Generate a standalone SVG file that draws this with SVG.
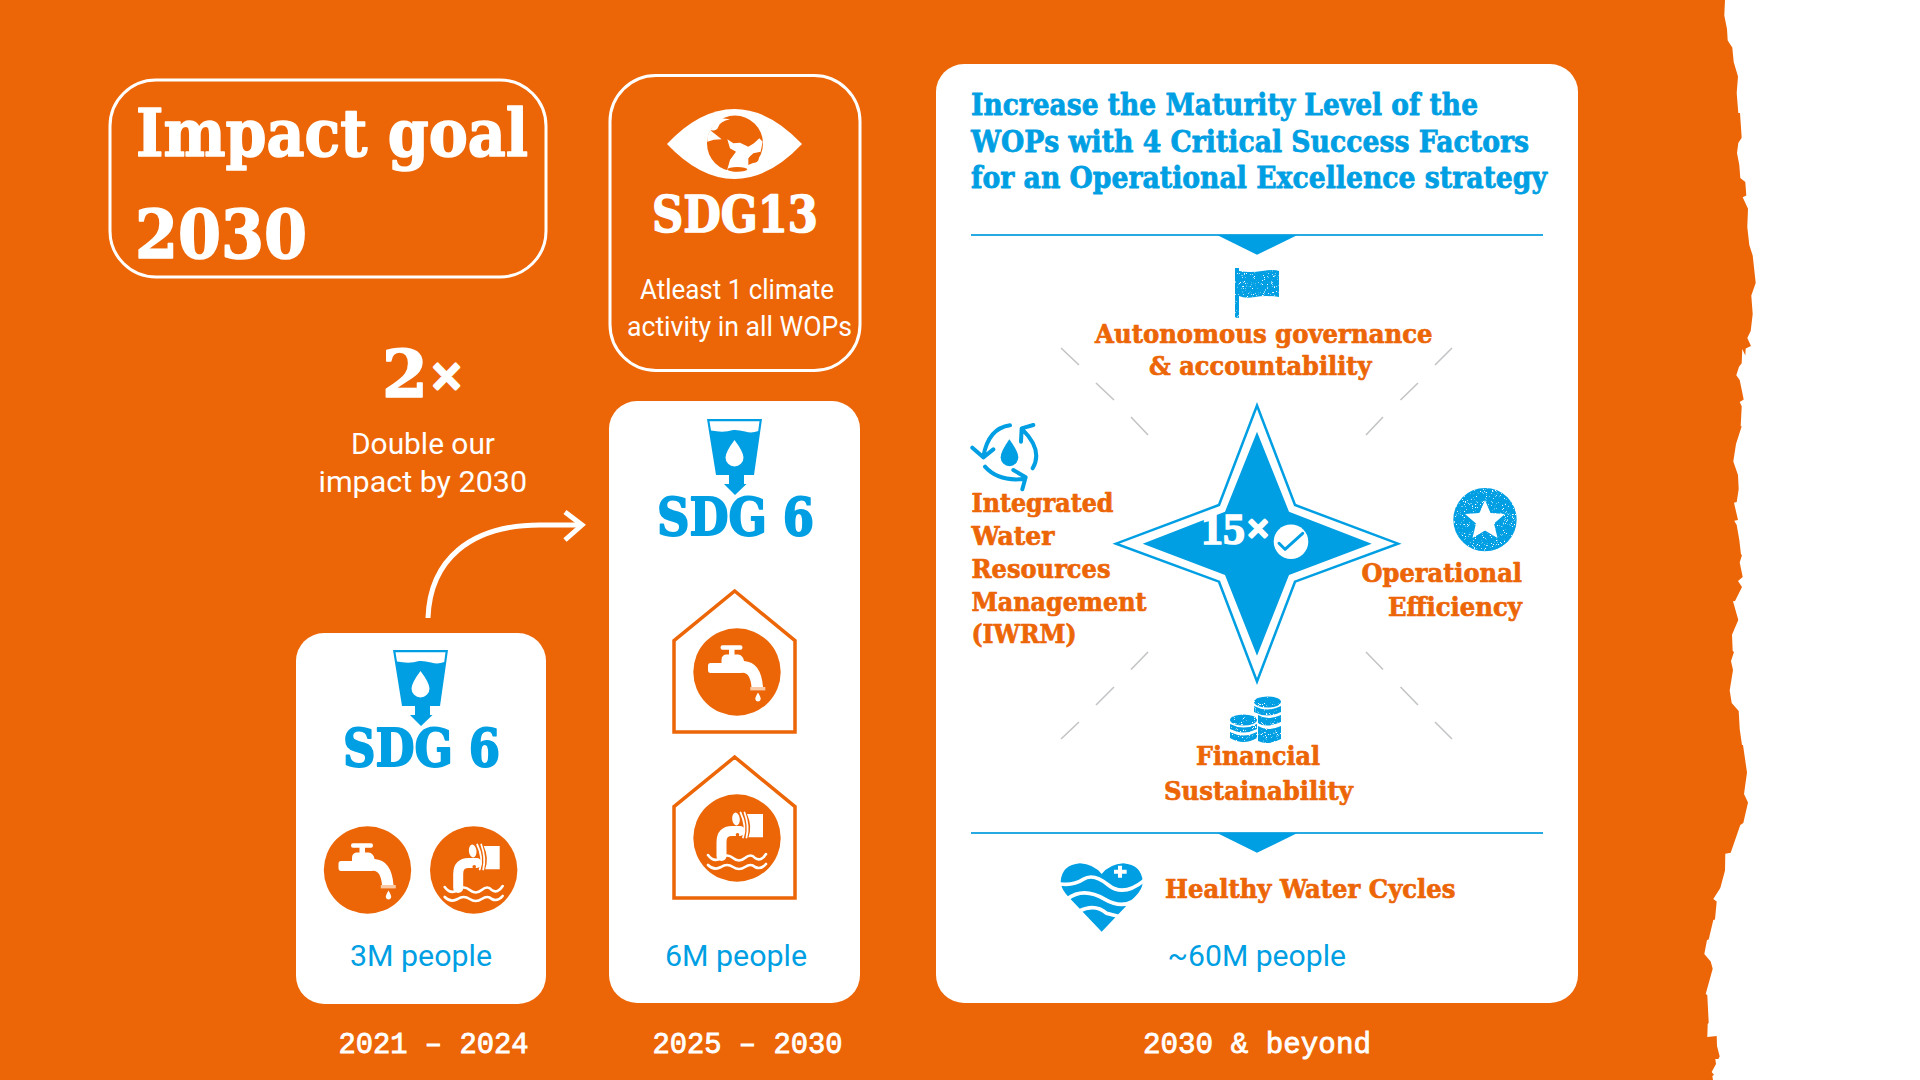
<svg xmlns="http://www.w3.org/2000/svg" width="1920" height="1080" viewBox="0 0 1920 1080">
<style>
text{white-space:pre}
.sf{font-family:"DejaVu Serif","Liberation Serif",serif;font-weight:700;stroke-linejoin:round}
.ss{font-family:Roboto,"Liberation Sans",sans-serif;font-weight:400}
.mn{font-family:"Liberation Mono",monospace;font-weight:400;font-size:29px;fill:#fff;stroke:#fff;stroke-width:.8}
.w{fill:#fff}.b{fill:#009FE3}.o{fill:#EC6608}
.big{stroke:#fff;stroke-width:1.6}
.bigb{stroke:#009FE3;stroke-width:1.8}
.or{font-size:26px;fill:#EC6608;stroke:#EC6608;stroke-width:.7}
.ti{font-size:30px;fill:#009FE3;stroke:#009FE3;stroke-width:.8}
.pe{font-size:30px;fill:#009FE3}
.card{fill:#fff}
.ol{fill:none;stroke:#fff;stroke-width:3}
.house{fill:none;stroke:#EC6608;stroke-width:3.5}
.tick{stroke:#c2c4c6;stroke-width:1.6;fill:none}
.rule{stroke:#27a9e1;stroke-width:2.2;fill:none}
.arc{fill:none;stroke:#009FE3;stroke-width:12;stroke-linecap:round;stroke-linejoin:round}
.wl{fill:none;stroke:#fff;stroke-linecap:round}
</style>
<defs>
<filter id="grain" x="-5%" y="-5%" width="110%" height="110%">
<feTurbulence type="fractalNoise" baseFrequency="1.1" numOctaves="2" seed="4"/>
<feColorMatrix values="0 0 0 0 0 0 0 0 0 0 0 0 0 0 0 0 0 0 9 -2.300"/>
<feComposite in="SourceGraphic" operator="in"/>
</filter>
<g id="tap">
<circle r="43.7" class="o"/>
<path class="w" d="M-14.5-26.7H3.5Q5.5-26.7 5.5-24.5T3.5-22.3H-2.500V-17.5H1Q6-17 7-11Q24-10 26 15H14.5Q13-1 4 1H-26.5Q-29 1-29-2V-6.5Q-29-9-26.5-9H-15.5V-12Q-15.5-17-11-17.5H-8V-22.3H-14.5Q-16.5-22.3-16.5-24.5T-14.5-26.7Z"/>
<rect x="13.3" y="15" width="15" height="3.4" fill="#f9c9a6"/>
<path class="w" d="M21 20.5Q24.3 26 23.6 27.5A2.7 2.7 0 0 1 18.4 27.5Q17.7 26 21 20.5Z"/>
</g>
<g id="pipe">
<circle r="43.7" class="o"/>
<path class="w" d="M10-24H26V-.8H11.5Q15.5-12 10-24Z"/>
<ellipse cx="-1" cy="-19" rx="3.8" ry="6.5" class="w" transform="rotate(-6 -1 -19)"/>
<path class="wl" stroke-width="1.8" d="M3.5-25.5Q10-12 6-.5M7.5-25.5Q12.5-12 9.5-.5"/>
<path class="wl" stroke-linecap="butt" stroke-width="10" d="M-15.5 18V4Q-15.5-7-5-7H3"/>
<circle cx="0.5" cy="-3.2" r="1.8" class="o"/>
<path class="wl" stroke-width="2.6" d="M-29 17Q-23 25-16 20Q-10 15-4 20T8 20T18 20Q24 24 29 16M-29 27Q-23 33-16 29Q-10 25-4 29T8 29T18 29Q24 32 29 26"/>
</g>
<g id="glass">
<path class="b" d="M0 0H55L47 56H37V65H39.5L28 76L17 65H22V56H9Z"/>
<path class="w" d="M2.5 2.2H52.5L51.2 12Q45 14.5 38 12.5T26 11Q17 14 4 11.5Z"/>
<path class="w" d="M27.500 21Q36.500 33 36.500 38.500A9 9 0 0 1 18.500 38.500Q18.500 33 27.500 21Z"/>
</g>
</defs>

<g id="background">
<rect width="1920" height="1080" fill="#fff"/>
<polygon class="o" points="0,0 1725,0 1724.3,15.5 1727,29 1727.7,40.6 1732.3,47.5 1733.7,62 1738,76.4 1736.7,93 1738.3,113 1740,113 1741.7,137.7 1738.3,143 1737,153 1739.3,165 1740.3,178 1745.3,182 1746.3,195.6 1742.7,197.3 1748,208.7 1747.3,227 1749.3,245 1752.7,255.5 1755.7,283 1751.3,295.5 1752.7,314 1750.7,331 1747.3,338 1751,346 1745.7,348.5 1745.3,355.4 1742.3,349 1741.7,363.3 1739,366.7 1736.3,375.3 1739.7,380 1743.7,399.5 1739.7,402 1741.7,406.3 1740.7,426.3 1741.7,426.3 1736,444 1733.3,461.4 1738,475 1738.7,489 1736.7,502 1734,502.8 1738,520 1734.3,520.7 1736.7,525 1739.3,540 1741,554.5 1742,555 1739.7,562.4 1742.7,577 1738,581 1742,587 1735,601 1733,601.3 1738.3,620 1732,634.7 1732.7,651 1734,652 1731,661 1733,670 1729.7,690.5 1731.7,703 1738.7,711 1739.7,729 1742,745 1743,745 1747,772.4 1744,794 1748,802.4 1743.3,823 1740.3,825 1730.7,852.7 1725.3,853.7 1725,870.6 1720.3,888 1713.3,899 1716.7,901.6 1715,919.5 1713.3,920 1708.7,939.5 1707,940 1704.3,954 1710.7,961.5 1712.7,968.7 1705.7,994 1707.3,995 1708.7,1022.8 1707.7,1024 1707.3,1037 1716.7,1036 1717,1046 1719.7,1056.5 1718.3,1059 1715.3,1059 1716,1064 1711.7,1072 1714,1075 1712.3,1076 1713,1080 0,1080"/>
</g>

<g id="connectors">
<path fill="none" stroke="#fff" stroke-width="5" d="M428 618C430 560 470 525 540 525H581"/>
<path fill="none" stroke="#fff" stroke-width="5" d="M565 512L582 525L565 540"/>
</g>

<g id="impact-goal">
<rect class="ol" x="110" y="80" width="436" height="197" rx="46"/>
<text class="sf w big" x="136" y="156" font-size="66" textLength="392" lengthAdjust="spacingAndGlyphs">Impact goal</text>
<text class="sf w big" x="135" y="258" font-size="68" textLength="172" lengthAdjust="spacingAndGlyphs">2030</text>
</g>

<g id="double-impact">
<text class="sf w big" x="382" y="396.500" font-size="66">2<tspan x="429" y="390" font-size="42" stroke-width="3">×</tspan></text>
<text class="ss w" x="351" y="453.500" font-size="29" textLength="144" lengthAdjust="spacingAndGlyphs">Double our</text>
<text class="ss w" x="318.500" y="492" font-size="29" textLength="208.500" lengthAdjust="spacingAndGlyphs">impact by 2030</text>
</g>

<g id="sdg13">
<rect class="ol" x="610" y="75.500" width="250" height="295" rx="46"/>
<path class="w" d="M667 144Q700 109 734.500 109T802 144Q769 179 734.500 179T667 144Z"/>
<circle cx="735" cy="143.500" r="28" class="o"/>
<g transform="translate(620 80) scale(.3333)">
<path class="w" d="M262 172Q275 130 305 115L330 118Q300 125 295 140T270 150L305 178Q280 178 262 185Z"/>
<path class="w" d="M322 178L340 190L360 188L385 200L402 190L418 175L428 185L422 215L400 220L385 235L385 255L420 240L412 262L385 272Q350 260 320 275L330 240L348 215L330 205Z"/>
<ellipse class="o" cx="402" cy="236" rx="14" ry="12"/>
<ellipse class="o" cx="352" cy="268" rx="30" ry="7"/>
</g>
<text class="sf w big" x="652" y="231.500" font-size="51" textLength="166" lengthAdjust="spacingAndGlyphs">SDG13</text>
<text class="ss w" x="640" y="298.500" font-size="27.500" textLength="194" lengthAdjust="spacingAndGlyphs">Atleast 1 climate</text>
<text class="ss w" x="627" y="336" font-size="27.500" textLength="225" lengthAdjust="spacingAndGlyphs">activity in all WOPs</text>
</g>

<g id="period-2021">
<rect class="card" x="296" y="633" width="250" height="371" rx="28"/>
<use href="#glass" x="393" y="650"/>
<text class="sf b bigb" x="343" y="765.500" font-size="52" textLength="157" lengthAdjust="spacingAndGlyphs">SDG 6</text>
<use href="#tap" x="367.500" y="870"/>
<use href="#pipe" x="473.700" y="870"/>
<text class="ss pe" x="350" y="965.700" textLength="142" lengthAdjust="spacingAndGlyphs">3M people</text>
<text class="mn" x="338.500" y="1052.500" textLength="190" lengthAdjust="spacingAndGlyphs">2021 – 2024</text>
</g>

<g id="period-2025">
<rect class="card" x="609" y="401" width="251" height="602" rx="28"/>
<use href="#glass" x="707" y="419"/>
<text class="sf b bigb" x="657" y="534.500" font-size="52" textLength="157" lengthAdjust="spacingAndGlyphs">SDG 6</text>
<path class="house" d="M734.700 591L795 640.700V732H674V640.700Z"/>
<use href="#tap" x="737" y="672"/>
<path class="house" d="M734.700 757L795 806.700V898H674V806.700Z"/>
<use href="#pipe" x="737" y="838"/>
<text class="ss pe" x="665" y="965.700" textLength="142" lengthAdjust="spacingAndGlyphs">6M people</text>
<text class="mn" x="652.500" y="1052.500" textLength="190" lengthAdjust="spacingAndGlyphs">2025 – 2030</text>
</g>

<g id="period-2030">
<rect class="card" x="936" y="64" width="642" height="939" rx="28"/>
<text class="sf ti" x="971" y="115" textLength="507" lengthAdjust="spacingAndGlyphs">Increase the Maturity Level of the</text>
<text class="sf ti" x="971" y="151.700" textLength="558" lengthAdjust="spacingAndGlyphs">WOPs with 4 Critical Success Factors</text>
<text class="sf ti" x="971" y="188" textLength="576" lengthAdjust="spacingAndGlyphs">for an Operational Excellence strategy</text>
<path class="rule" d="M971 235H1543"/>
<path class="b" d="M1217 235H1297.500L1257 254.700Z"/>
<path class="rule" d="M971 833H1543"/>
<path class="b" d="M1217 833H1297.500L1257 852.700Z"/>
<text class="ss pe" x="1167.500" y="966" textLength="178.500" lengthAdjust="spacingAndGlyphs">~60M people</text>
<text class="mn" x="1143" y="1053" textLength="228" lengthAdjust="spacingAndGlyphs">2030 &amp; beyond</text>
</g>

<g id="ticks">
<path class="tick" d="M1061 348L1079 365M1096 383L1114 400M1131 417L1148 435M1452 348L1435 365M1418 383L1400.500 400M1383 417L1366 435M1148 652L1131 669.500M1114 687L1096 705M1079 722L1061 739M1366 652L1383 669.500M1400.500 687L1418 705M1435 722L1452 739"/>
</g>

<g id="star">
<path fill="none" stroke="#009FE3" stroke-width="2.500" stroke-linejoin="miter" d="M1257 405.500L1295 505L1398 543.700L1295 581.700L1257 681.500L1219 581.700L1116 543.700L1219 505Z"/>
<path class="b" d="M1257 431.700L1289 511.700L1371.700 543.700L1289 575L1257 655.700L1225 575L1142.700 543.700L1225 511.700Z"/>
<text x="1201" y="544" font-size="44" font-weight="700" font-family="'Liberation Serif',serif" fill="#fff" stroke="#fff" stroke-width="1.500">15<tspan x="1245.500" y="538" class="sf" font-size="30" stroke-width="2.500">×</tspan></text>
<circle cx="1291" cy="541.700" r="17.300" class="w"/>
<path fill="none" stroke="#009FE3" stroke-width="3" stroke-linecap="round" stroke-linejoin="round" d="M1279 543.300L1285 549.300L1302.700 533.300"/>
</g>

<g id="autonomous-governance">
<path class="b" filter="url(#grain)" d="M1235 268H1239V271Q1250 273 1262 271T1279 271V297Q1265 295 1255 297T1239 296V317.700H1235Z"/>
<text class="sf or" x="1095" y="342.700" textLength="337.500" lengthAdjust="spacingAndGlyphs">Autonomous governance</text>
<text class="sf or" x="1149" y="375" textLength="222.500" lengthAdjust="spacingAndGlyphs">&amp; accountability</text>
</g>

<g id="iwrm">
<g transform="translate(960 400) scale(.3333)">
<path class="arc" d="M150 76Q85 85 70 170M37 143L70 172L100 148M75 200Q115 245 190 237M160 210L197 232L187 268M218 205Q250 150 187 88M183 125L185 85L220 75"/>
<path class="b" d="M148 118Q175 155 175 172A26 26 0 0 1 122 172Q122 155 148 118Z"/>
</g>
<text class="sf or" x="971.500" y="512" textLength="142" lengthAdjust="spacingAndGlyphs">Integrated</text>
<text class="sf or" x="971.500" y="545" textLength="83" lengthAdjust="spacingAndGlyphs">Water</text>
<text class="sf or" x="971.500" y="578" textLength="139" lengthAdjust="spacingAndGlyphs">Resources</text>
<text class="sf or" x="971.500" y="610.600" textLength="175" lengthAdjust="spacingAndGlyphs">Management</text>
<text class="sf or" x="971.500" y="643" textLength="105" lengthAdjust="spacingAndGlyphs">(IWRM)</text>
</g>

<g id="operational-efficiency">
<circle cx="1485" cy="519.600" r="31.700" class="b" filter="url(#grain)"/>
<path class="w" d="M1485 500L1490.500 513L1505 514L1494 523.500L1497.500 538L1485 530.500L1472.500 538L1476 523.500L1465 514L1479.500 513Z"/>
<text class="sf or" x="1361.500" y="582" textLength="160.500" lengthAdjust="spacingAndGlyphs">Operational</text>
<text class="sf or" x="1388" y="616.400" textLength="134" lengthAdjust="spacingAndGlyphs">Efficiency</text>
</g>

<g id="financial-sustainability">
<g class="b" filter="url(#grain)">
<ellipse cx="1243.500" cy="720" rx="13.500" ry="5.500"/>
<path d="M1230 724Q1243.500 731 1257 724V729Q1243.500 736 1230 729ZM1230 732Q1243.500 739 1257 732V738Q1243.500 746 1230 738Z"/>
<ellipse cx="1267.500" cy="702" rx="13.500" ry="5.500"/>
<path d="M1254 706Q1267.500 713 1281 706V712Q1267.500 719 1254 712ZM1258 715Q1267.500 721 1281 715V722Q1267.500 728 1258 723.500ZM1258 726Q1267.500 732 1281 726V739Q1267.500 746 1258 741Z"/>
</g>
<text class="sf or" x="1196" y="765" textLength="124" lengthAdjust="spacingAndGlyphs">Financial</text>
<text class="sf or" x="1164" y="800" textLength="189" lengthAdjust="spacingAndGlyphs">Sustainability</text>
</g>

<g id="healthy-water-cycles">
<g transform="translate(1040 850) scale(.3333)">
<path class="b" d="M185 245L85 140Q62 115 62 95Q65 45 120 40Q160 42 185 72Q210 42 250 40Q305 45 308 95Q308 118 285 140Z"/>
<path class="wl" stroke-linecap="butt" stroke-width="11" d="M60 102Q100 108 130 88T205 105T312 92M82 147Q130 110 195 148T305 130M118 183Q165 160 200 190L240 200"/>
<path class="w" d="M234 47H246V59H260V71H246V83H234V71H222V59H234Z"/>
</g>
<text class="sf or" x="1165" y="898" textLength="290.500" lengthAdjust="spacingAndGlyphs">Healthy Water Cycles</text>
</g>
</svg>
